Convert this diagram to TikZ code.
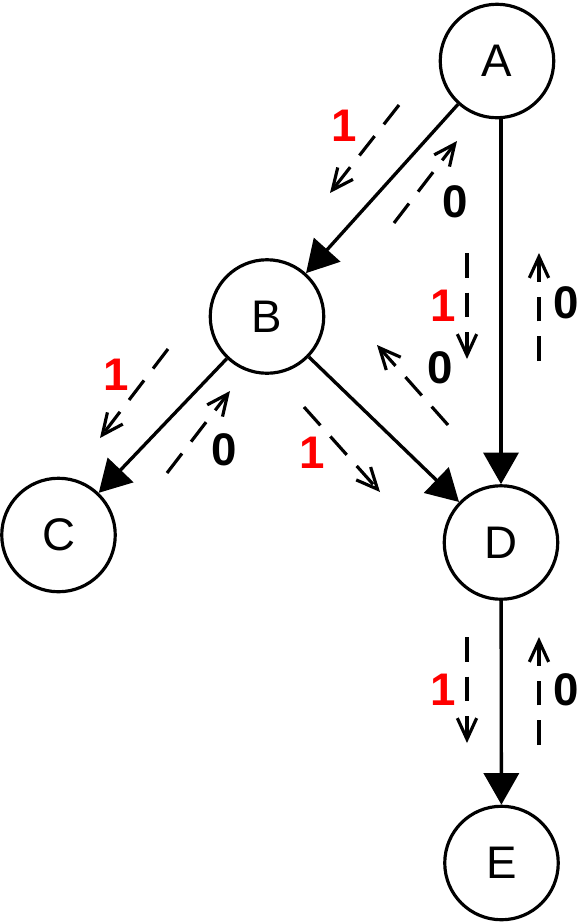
\documentclass[tikz,border=0pt]{standalone}
\usepackage{fontspec}
\setmainfont{Liberation Sans}
\usetikzlibrary{arrows.meta}
\tikzset{
  VertexStyle/.style = { circle, draw, line width=1.8pt, minimum size=64.6pt,
                         inner sep=0pt, font = \fontsize{26}{30}\selectfont},
  EdgeStyle/.style   = { line width=1.9pt, -{Triangle[length=18pt,width=20pt]} },
  FlowStyle/.style   = { line width=1.8pt, dash pattern=on 14pt off 8.5pt,
                         -{Straight Barb[length=12pt,width=11pt]} },
  OneStyle/.style    = { text = red, font = \fontsize{26}{30}\selectfont\bfseries },
  ZeroStyle/.style   = { text = black, font = \fontsize{26}{30}\selectfont\bfseries }
}
\begin{document}
\begin{tikzpicture}[x=0.02cm, y=-0.02cm]
  \useasboundingbox (0,0) rectangle (581,924);
  \node[VertexStyle](A) at (497,61) {A};
  \node[VertexStyle](B) at (267,316.5) {B};
  \node[VertexStyle](C) at (58.5,535) {C};
  \node[VertexStyle](D) at (501,542.5) {D};
  \node[VertexStyle](E) at (501.5,863) {E};
  \draw[EdgeStyle](A)--(B);
  \draw[EdgeStyle](A.south -| D.north)--(D);
  \draw[EdgeStyle](B)--(C);
  \draw[EdgeStyle](B)--(D);
  \draw[EdgeStyle](D)--(E);
  % flows A-B
  \coordinate (ab1s) at (399,105); \coordinate (ab1e) at (330,193);
  \coordinate (ab0s) at (394,223); \coordinate (ab0e) at (457,141);
  \draw[FlowStyle](ab1s)--(ab1e);
  \draw[FlowStyle](ab0s)--(ab0e);
  \node[OneStyle](ab1) at (344,126) {1};
  \node[ZeroStyle](ab0) at (455,202) {0};
  % flows A-D
  \coordinate (ad1s) at (467,253); \coordinate (ad1e) at (467,359);
  \coordinate (ad0s) at (539,361); \coordinate (ad0e) at (539,253);
  \draw[FlowStyle](ad1s)--(ad1e);
  \draw[FlowStyle](ad0s)--(ad0e);
  \node[OneStyle](ad1) at (443,306) {1};
  \node[ZeroStyle](ad0) at (566,303) {0};
  % flows B-C
  \coordinate (bc1s) at (168,349); \coordinate (bc1e) at (100,438);
  \coordinate (bc0s) at (167,473); \coordinate (bc0e) at (230,391);
  \draw[FlowStyle](bc1s)--(bc1e);
  \draw[FlowStyle](bc0s)--(bc0e);
  \node[OneStyle](bc1) at (116,375) {1};
  \node[ZeroStyle](bc0) at (224,450) {0};
  % flows B-D
  \coordinate (bd1s) at (304,407); \coordinate (bd1e) at (380,492);
  \coordinate (bd0s) at (448,425); \coordinate (bd0e) at (377,345);
  \draw[FlowStyle](bd1s)--(bd1e);
  \draw[FlowStyle](bd0s)--(bd0e);
  \node[OneStyle](bd1) at (312,453) {1};
  \node[ZeroStyle](bd0) at (440,368) {0};
  % flows D-E
  \coordinate (de1s) at (467,637); \coordinate (de1e) at (467,743);
  \coordinate (de0s) at (539,745); \coordinate (de0e) at (539,637);
  \draw[FlowStyle](de1s)--(de1e);
  \draw[FlowStyle](de0s)--(de0e);
  \node[OneStyle](de1) at (443,690) {1};
  \node[ZeroStyle](de0) at (566,690) {0};
\end{tikzpicture}
\end{document}
